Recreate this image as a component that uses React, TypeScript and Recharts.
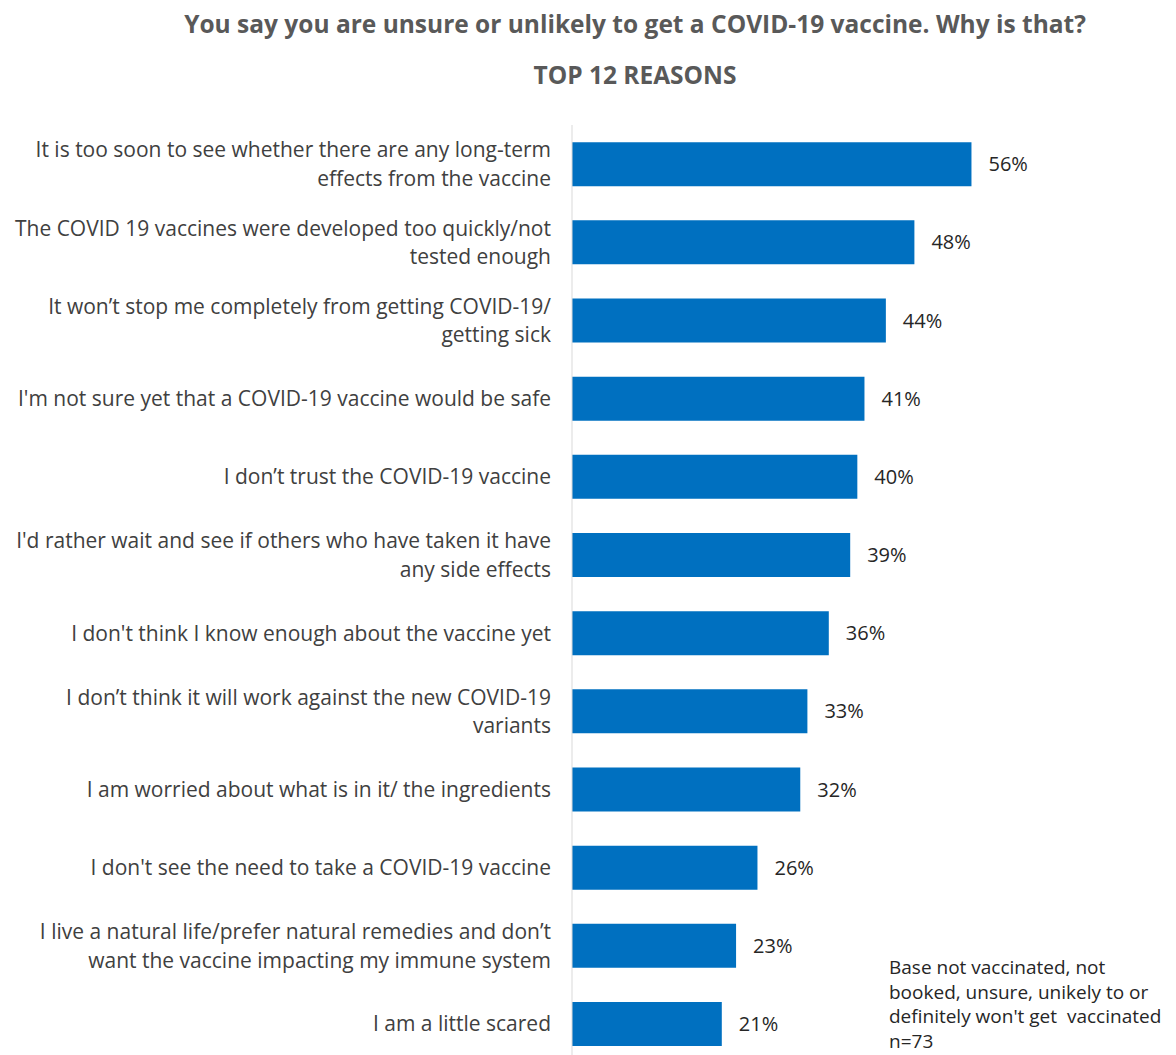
import { BarChart, Bar, XAxis, YAxis, LabelList } from "recharts";

const reasons = [
  "It is too soon to see whether there are any long-term|effects from the vaccine",
  "The COVID 19 vaccines were developed too quickly/not|tested enough",
  "It won\u2019t stop me completely from getting COVID-19/|getting sick",
  "I'm not sure yet that a COVID-19 vaccine would be safe",
  "I don\u2019t trust the COVID-19 vaccine",
  "I'd rather wait and see if others who have taken it have|any side effects",
  "I don't think I know enough about the vaccine yet",
  "I don\u2019t think it will work against the new COVID-19|variants",
  "I am worried about what is in it/ the ingredients",
  "I don't see the need to take a COVID-19 vaccine",
  "I live a natural life/prefer natural remedies and don\u2019t|want the vaccine impacting my immune system",
  "I am a little scared",
];
const shares = [56, 48, 44, 41, 40, 39, 36, 33, 32, 26, 23, 21];

const footnote = [
  "Base not vaccinated, not",
  "booked, unsure, unikely to or",
  "definitely won't get  vaccinated",
  "n=73",
];

const data = reasons.map((r, i) => ({ name: r, value: shares[i] }));

const FONT = "'Open Sans', sans-serif";

function ReasonTick(props: any) {
  const { x, y, payload } = props;
  const lines: string[] = String(payload.value).split("|");
  const lh = 28.5;
  const start = -((lines.length - 1) * lh) / 2;
  return (
    <text x={x - 13} y={y} textAnchor="end" fill="#404040" fontSize={21} fontFamily={FONT}>
      {lines.map((l, i) => (
        <tspan key={i} x={x - 13} y={y + start + i * lh} dy="0.36em">
          {l}
        </tspan>
      ))}
    </text>
  );
}

export default function App() {
  const titleStyle: any = {
    position: "absolute",
    left: 0,
    width: 1270,
    textAlign: "center",
    fontSize: 24.5,
    fontWeight: 700,
    color: "#595959",
    lineHeight: "30px",
  };
  return (
    <div
      style={{
        position: "absolute",
        left: 0,
        top: 0,
        width: 1176,
        height: 1055,
        overflow: "hidden",
        background: "#fff",
        fontFamily: FONT,
      }}
    >
      <div style={{ ...titleStyle, top: 9 }}>
        You say you are unsure or unlikely to get a COVID-19 vaccine. Why is that?
      </div>
      <div style={{ ...titleStyle, top: 60 }}>TOP 12 REASONS</div>
      <div style={{ position: "absolute", left: 0, top: 0 }}>
        <BarChart
          layout="vertical"
          width={1176}
          height={1064}
          data={data}
          margin={{ top: 125, right: 176, bottom: 1, left: 0 }}
          barCategoryGap="22%"
        >
          <XAxis type="number" domain={[0, 60]} hide />
          <YAxis
            type="category"
            dataKey="name"
            width={572}
            tickLine={false}
            axisLine={{ stroke: "#d9d9d9", strokeWidth: 1 }}
            tick={<ReasonTick />}
            interval={0}
          />
          <Bar dataKey="value" fill="#0070C0" isAnimationActive={false}>
            <LabelList
              dataKey="value"
              position="right"
              offset={17}
              formatter={(v: any) => `${v}%`}
              style={{ fill: "#262626", fontSize: 20, fontFamily: FONT }}
            />
          </Bar>
        </BarChart>
      </div>
      <div
        style={{
          position: "absolute",
          left: 889,
          top: 955,
          fontSize: 19,
          lineHeight: "24.5px",
          color: "#262626",
          whiteSpace: "pre",
        }}
      >
        {footnote.join("\n")}
      </div>
    </div>
  );
}
